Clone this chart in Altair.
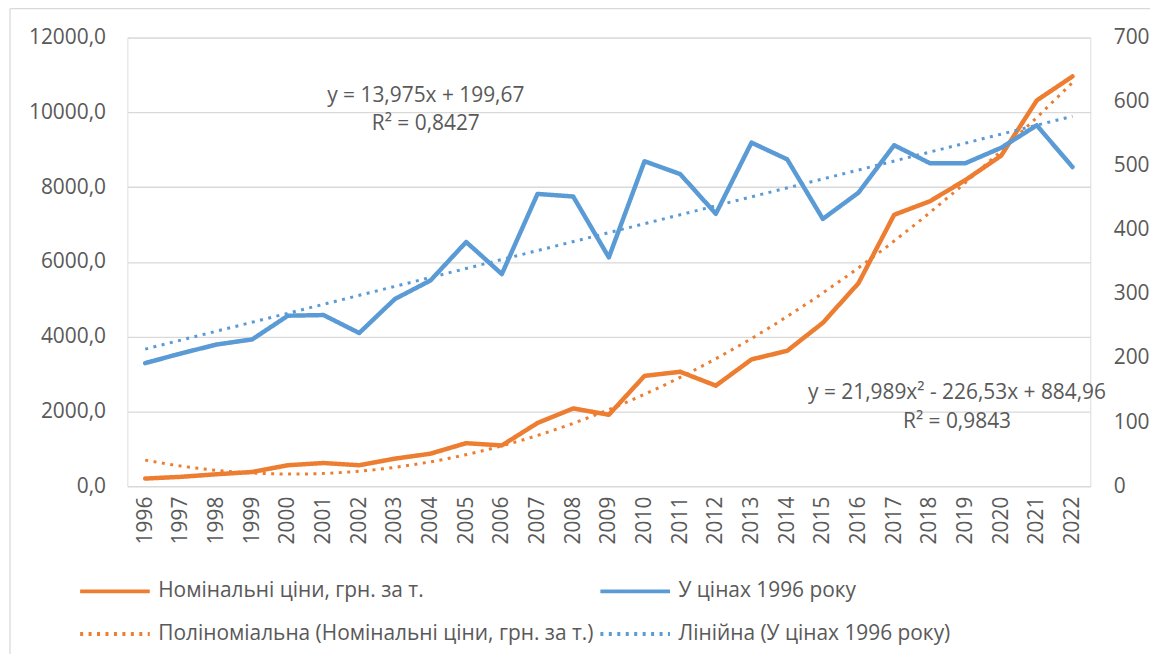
import json
import altair as alt
import pandas as pd

# ---- data ----
years = [1996, 1997, 1998, 1999, 2000, 2001, 2002, 2003, 2004, 2005, 2006, 2007, 2008,
         2009, 2010, 2011, 2012, 2013, 2014, 2015, 2016, 2017, 2018, 2019, 2020, 2021, 2022]
nominal = [204, 250, 319, 380, 560, 620, 560, 736, 869, 1150, 1090, 1690, 2080,
           1910, 2950, 3060, 2690, 3390, 3620, 4370, 5430, 7260, 7620, 8190, 8840, 10320, 10960]
real1996 = [192, 207, 221, 229, 266, 267, 239, 292, 321, 381, 331, 456, 452,
            357, 507, 487, 425, 536, 510, 417, 458, 532, 504, 504, 528, 563, 498]

series_names = [
    "Номінальні ціни, грн. за т.",
    "У цінах 1996 року",
    "Поліноміальна (Номінальні ціни, грн. за т.)",
    "Лінійна (У цінах 1996 року)",
]
series_colors = ["#ED7D31", "#5B9BD5", "#ED7D31", "#5B9BD5"]
left_ticks = [0, 2000, 4000, 6000, 8000, 10000, 12000]
right_ticks = [0, 100, 200, 300, 400, 500, 600, 700]
trend_texts = ["y = 13,975x + 199,67", "R² = 0,8427",
               "y = 21,989x² - 226,53x + 884,96", "R² = 0,9843"]

df_nom = pd.DataFrame({"year": years, "value": nominal, "series": series_names[0]})
df_real = pd.DataFrame({"year": years, "value": real1996, "series": series_names[1]})

FONT = "Open Sans"
GRAY = "#595959"
GRID = "#d9d9d9"
FS = 21

legend = alt.Legend(
    orient="none", legendX=-23, legendY=546, columns=2, direction="horizontal",
    symbolType="M-5,0H5", symbolSize=196, symbolStrokeWidth=4,
    labelFont=FONT, labelFontSize=FS, labelColor=GRAY, labelLimit=900,
    labelOffset=33, columnPadding=-2, rowPadding=21, title=None,
)
color = alt.Color("series:N", title=None,
                  scale=alt.Scale(domain=series_names, range=series_colors),
                  legend=legend)
dash = alt.StrokeDash("series:N", title=None,
                      scale=alt.Scale(domain=series_names,
                                      range=[[1, 0], [1, 0], [3, 5.5], [3, 5.5]]),
                      legend=legend)

x_enc = alt.X("year:Q", title=None,
              scale=alt.Scale(domain=[1995.5, 2022.5], nice=False, zero=False),
              axis=alt.Axis(values=years, format="d", labelAngle=270, grid=False,
                            ticks=False, domainColor=GRID, domainWidth=1.3,
                            labelPadding=10, labelFont=FONT, labelFontSize=FS,
                            labelColor=GRAY, labelOverlap=False, labelFlush=False))

y_left = alt.Y("value:Q", title=None,
               scale=alt.Scale(domain=[0, 12000], nice=False),
               axis=alt.Axis(orient="left", values=left_ticks,
                             labelExpr="replace(format(datum.value, '.1f'), '.', ',')",
                             grid=True, gridColor=GRID, gridWidth=1.3, ticks=False,
                             domain=False, labelPadding=22, labelFont=FONT,
                             labelFontSize=FS, labelColor=GRAY))
y_right = alt.Y("value:Q", title=None,
                scale=alt.Scale(domain=[0, 700], nice=False),
                axis=alt.Axis(orient="right", values=right_ticks, format="d",
                              grid=False, ticks=False, domain=False, labelPadding=23,
                              labelFont=FONT, labelFontSize=FS, labelColor=GRAY))

line_kw = dict(strokeWidth=4.5, strokeCap="round", strokeJoin="round")
trend_kw = dict(strokeWidth=3, strokeCap="butt")

nom_line = alt.Chart(df_nom).mark_line(**line_kw).encode(
    x=x_enc, y=y_left, color=color, strokeDash=dash)
nom_trend = alt.Chart(df_nom).transform_regression(
    "year", "value", method="poly", order=2
).transform_calculate(
    series=json.dumps(series_names[2], ensure_ascii=False)
).mark_line(**trend_kw).encode(x=x_enc, y=y_left, color=color, strokeDash=dash)

real_line = alt.Chart(df_real).mark_line(**line_kw).encode(
    x=x_enc, y=y_right, color=color, strokeDash=dash)
real_trend = alt.Chart(df_real).transform_regression(
    "year", "value", method="linear"
).transform_calculate(
    series=json.dumps(series_names[3], ensure_ascii=False)
).mark_line(**trend_kw).encode(x=x_enc, y=y_right, color=color, strokeDash=dash)


def label(txt, px, py):
    return alt.Chart(pd.DataFrame({"t": [txt]})).mark_text(
        font=FONT, fontSize=FS, color=GRAY, align="center", baseline="middle"
    ).encode(text="t:N", x=alt.value(px), y=alt.value(py))


labels = [
    label(trend_texts[0], 300, 59),
    label(trend_texts[1], 300, 87),
    label(trend_texts[2], 834, 357),
    label(trend_texts[3], 834, 387),
]

frame_df = pd.DataFrame({"k": [0]})
frame_left = alt.Chart(frame_df).mark_rule(color=GRID, strokeWidth=1.3).encode(
    x=alt.value(-118), y=alt.value(-29), y2=alt.value(700))
frame_top = alt.Chart(frame_df).mark_rule(color=GRID, strokeWidth=1.3).encode(
    x=alt.value(-118), x2=alt.value(1200), y=alt.value(-29))

left_layer = alt.layer(nom_line, nom_trend, labels[2], labels[3])
right_layer = alt.layer(real_line, real_trend, labels[0], labels[1])

chart = alt.layer(frame_left, frame_top, left_layer, right_layer).resolve_scale(
    y="independent"
).properties(
    width=968, height=451,
    padding={"left": 120, "top": 28, "right": 60, "bottom": 167},
    autosize=alt.AutoSizeParams(type="none"),
).configure_view(stroke=None).configure(background="white")

chart.save("out.html", embed_options={"renderer": "svg", "actions": False})
